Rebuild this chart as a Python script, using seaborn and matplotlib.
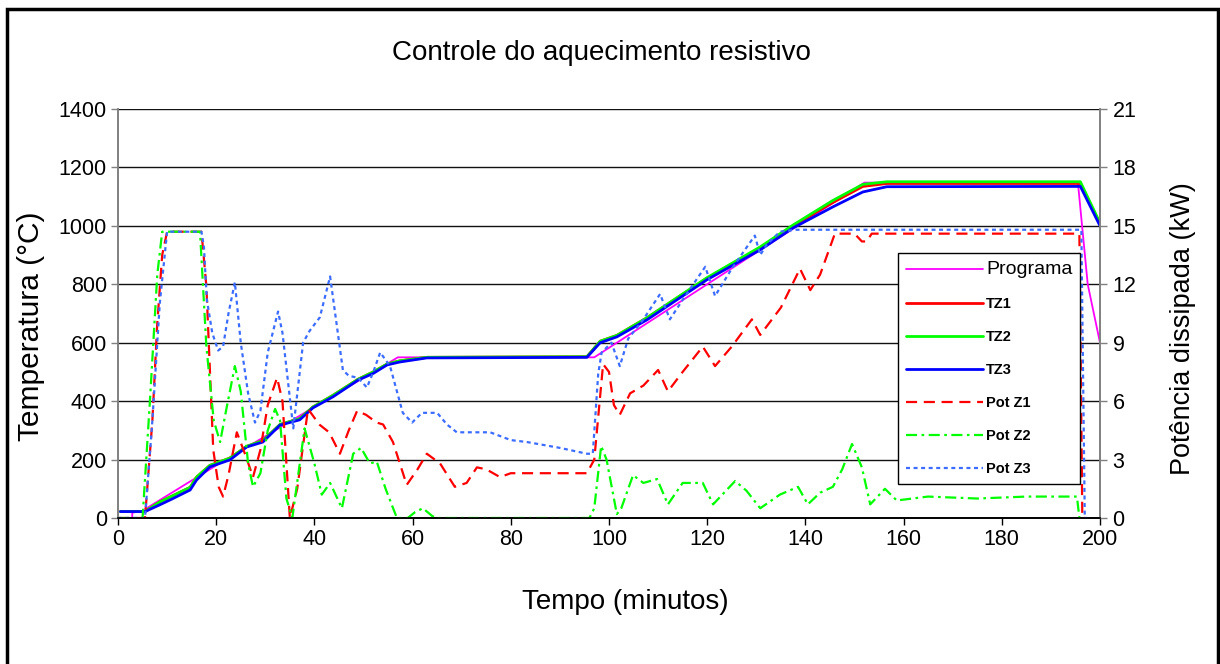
import matplotlib
matplotlib.use("Agg")
import matplotlib.pyplot as plt
from matplotlib.patches import Rectangle
import seaborn as sns

# ---------------- data ----------------
t_prog = [0.8, 2.9, 2.9, 5.0, 20, 40, 57, 97, 152, 195.5, 197.5, 200]
programa = [0, 0, 18, 25, 180, 380, 550, 550, 1148, 1148, 800, 600]

t_tz = [0.5, 5.5, 8.5, 11, 14.7, 16, 18.7, 22.8, 26.2, 29.5, 33, 37, 39.7, 43.8, 48.9, 52,
        54.8, 57.4, 62.9, 95.5, 98.2, 101.6, 107.7, 119.9, 130.8, 137.5, 145.6, 151.7,
        156.6, 196, 200]
tz1 = [22, 22, 55, 75, 105, 140, 180, 205, 245, 265, 320, 340, 380, 420, 475, 500,
       527, 538, 550, 552, 605, 625, 685, 820, 925, 1000, 1080, 1135, 1145, 1145, 1005]
tz2 = [22, 22, 55, 75, 105, 140, 180, 205, 245, 265, 320, 340, 380, 420, 475, 500,
       527, 538, 550, 552, 605, 625, 685, 822, 928, 1003, 1087, 1142, 1151, 1151, 1010]
tz3 = [22, 22, 45, 65, 96, 130, 175, 199, 243, 260, 318, 336, 377, 415, 472, 495,
       524, 534, 548, 550, 600, 620, 678, 815, 918, 993, 1065, 1116, 1134, 1135, 1000]

t_p1 = [0, 5.5, 7, 8, 9, 10, 17, 18, 19.4, 20.5, 21.4, 22.5, 24.2, 26, 27.5, 29, 30.5,
        32.4, 33.5, 35, 36.5, 38.7, 41, 43, 45.2, 47, 48.7, 50.5, 52.7, 54, 56, 58.8,
        61, 62.9, 65.6, 68.6, 71, 73.1, 75, 77.8, 80, 95.5, 97, 98.8, 100, 101, 102.2,
        104.3, 107, 110, 112, 115, 119.1, 121.6, 125, 129.1, 130.8, 135, 138.9, 141,
        143, 146, 150, 151.5, 152.5, 153.5, 156, 195.8, 196.4, 197]
pot_z1 = [0, 0, 5, 10, 13.5, 14.7, 14.7, 11.9, 3.5, 1.6, 1.1, 2.2, 4.4, 3.2, 2.1, 3.5,
          5.8, 7.2, 6, 0, 1.5, 5.6, 4.8, 4.4, 3.3, 4.5, 5.5, 5.3, 4.9, 4.8, 3.9, 1.7,
          2.5, 3.3, 2.8, 1.6, 1.8, 2.6, 2.5, 2.1, 2.3, 2.3, 3, 7.9, 7.5, 5.8, 5.3, 6.4,
          6.8, 7.6, 6.5, 7.5, 8.8, 7.8, 8.8, 10.2, 9.4, 10.8, 12.8, 11.7, 12.5, 14.6,
          14.6, 14.2, 14.2, 14.6, 14.6, 14.6, 0, 0]

t_p2 = [0, 5, 6.5, 8, 9, 10, 16.7, 18, 19.5, 20.8, 22, 23.8, 25, 26.5, 27.5, 29, 30.5,
        32, 33, 34.3, 35.5, 38, 40, 41.5, 43.2, 45.6, 47.9, 49.5, 51.3, 52.7, 54.5,
        56.8, 59, 60.5, 62.1, 64, 65, 96, 97, 98.4, 99.5, 101.6, 102.5, 104.9, 107,
        109.8, 112, 115, 119.1, 121.2, 125.7, 128, 130.8, 134.8, 138.5, 140.5, 143,
        145.6, 147.5, 149.5, 151.5, 153.2, 156.2, 158.6, 165, 175, 185, 195.3, 195.8, 196.3]
pot_z2 = [0, 0, 6, 12.5, 14.7, 14.7, 14.7, 8.8, 5, 3.9, 5.5, 7.8, 6.5, 2.8, 1.6, 2.3,
          4.5, 5.6, 5, 1, 0, 4.6, 2.8, 1.2, 1.8, 0.5, 3.3, 3.6, 2.8, 2.9, 1.5, 0, 0,
          0.3, 0.5, 0.1, 0, 0, 0.5, 3.7, 3.0, 0.2, 0.5, 2.2, 1.8, 2.0, 0.7, 1.8, 1.8,
          0.7, 1.9, 1.4, 0.5, 1.2, 1.6, 0.7, 1.3, 1.6, 2.5, 3.8, 2.6, 0.7, 1.5, 0.9,
          1.1, 1.0, 1.1, 1.1, 0, 0]

t_p3 = [0, 5.5, 7, 8.5, 10, 17, 17.5, 18.1, 19.2, 20.4, 21.4, 22.5, 23.8, 25, 26.5,
        27.9, 29, 30.5, 32.6, 33.5, 35.7, 37.7, 39, 41.1, 43.2, 44.5, 45.8, 47, 48.9,
        50.7, 52, 53.4, 55.4, 58, 59.9, 61.9, 65, 67, 69, 75.8, 80, 83.3, 90, 95.5,
        96.7, 97.8, 98.5, 100.5, 102.2, 103.9, 107, 110.4, 112.4, 115, 119.6, 121.6,
        125, 129.7, 130.8, 132, 134.8, 138, 145, 196.2, 196.9, 197.4]
pot_z3 = [0, 0, 5, 11, 14.7, 14.7, 13.9, 11.2, 9.5, 8.6, 8.8, 10.5, 12.1, 9, 6.4, 4.9,
          5.5, 8.5, 10.6, 9.5, 4.6, 9.0, 9.6, 10.3, 12.4, 10, 7.6, 7.3, 7.2, 6.7, 7.5,
          8.5, 7.8, 5.4, 4.9, 5.4, 5.4, 4.8, 4.4, 4.4, 4.0, 3.9, 3.6, 3.3, 3.3, 7.4,
          8.5, 9.0, 7.8, 9.2, 10.2, 11.5, 10.2, 11.2, 12.9, 11.4, 12.8, 14.5, 13.5, 14,
          14.7, 14.8, 14.8, 14.8, 0, 0]

x_ticks = list(range(0, 201, 20))
y_ticks = list(range(0, 1401, 200))
y2_ticks = list(range(0, 22, 3))

# ---------------- plot ----------------
sns.set_theme(style="white")
plt.rcParams["font.family"] = ["Liberation Sans", "DejaVu Sans"]
plt.rcParams["text.color"] = "black"
plt.rcParams["axes.labelcolor"] = "black"

fig = plt.figure(figsize=(12.2, 6.64), dpi=100)
ax = fig.add_axes([118 / 1220, 1 - 518 / 664, 982 / 1220, 409 / 664])
ax2 = ax.twinx()

common = dict(estimator=None, sort=False, legend=False)
sns.lineplot(x=t_prog, y=programa, ax=ax, color="#ff00ff", lw=1.3, label="Programa", **common)
sns.lineplot(x=t_tz, y=tz1, ax=ax, color="#ff0000", lw=2.0, label="TZ1", **common)
sns.lineplot(x=t_tz, y=tz2, ax=ax, color="#00ff00", lw=2.0, label="TZ2", **common)
sns.lineplot(x=t_tz, y=tz3, ax=ax, color="#0000ff", lw=2.0, label="TZ3", **common)

sns.lineplot(x=t_p1, y=pot_z1, ax=ax2, color="#ff0000", lw=1.6, label="Pot Z1",
             linestyle=(0, (5, 3)), **common)
sns.lineplot(x=t_p2, y=pot_z2, ax=ax2, color="#00ff00", lw=1.6, label="Pot Z2",
             linestyle=(0, (5, 2, 1.2, 2)), **common)
sns.lineplot(x=t_p3, y=pot_z3, ax=ax2, color="#3c6cff", lw=1.6, label="Pot Z3",
             linestyle=(0, (1.8, 1.6)), **common)

ax.set_xlim(0, 200)
ax.set_ylim(0, 1400)
ax2.set_ylim(0, 21)
ax.set_xticks(x_ticks)
ax.set_yticks(y_ticks)
ax2.set_yticks(y2_ticks)
ax.yaxis.grid(True, color="#111111", lw=1.0)
ax.xaxis.grid(False)
ax2.grid(False)

for a in (ax, ax2):
    a.spines["top"].set_visible(False)
    a.spines["left"].set_color("#808080")
    a.spines["right"].set_color("#808080")
    a.spines["bottom"].set_color("black")
    a.spines["left"].set_linewidth(1.2)
    a.spines["right"].set_linewidth(1.2)
    a.spines["bottom"].set_linewidth(1.2)
ax.tick_params(axis="both", which="major", labelsize=15.5, length=5, width=1,
               direction="out", colors="black", pad=3)
ax.tick_params(axis="y", left=True, color="#808080", labelcolor="black")
ax.tick_params(axis="x", bottom=True, color="black")
ax2.tick_params(axis="y", right=True, labelsize=15.5, length=5, width=1, direction="out",
                color="#808080", labelcolor="black", pad=4)

ax.set_xlabel("Tempo (minutos)", fontsize=20, color="black")
ax.xaxis.set_label_coords((625 - 118) / 982, -(602 - 518) / 409)
ax.xaxis.label.set_va("center")
ax.set_ylabel("Temperatura (°C)", fontsize=21.5, color="black")
ax.yaxis.set_label_coords(-(118 - 31) / 982, (518 - 326) / 409)
ax.yaxis.label.set_va("center")
ax2.set_ylabel("Potência dissipada (kW)", fontsize=19.5, rotation=90, color="black")
ax2.yaxis.set_label_coords((1183 - 118) / 982, (518 - 329) / 409)
ax2.yaxis.label.set_va("center")

fig.text(601 / 1220, 1 - 53 / 664, "Controle do aquecimento resistivo",
         ha="center", va="center", fontsize=20, color="black")

# legend
handles = ax.get_lines() + ax2.get_lines()
labels = ["Programa", "TZ1", "TZ2", "TZ3", "Pot Z1", "Pot Z2", "Pot Z3"]
leg = ax2.legend(handles, labels, loc="upper left", bbox_to_anchor=(0.794, 0.648),
                 borderaxespad=0, frameon=True, fancybox=False, framealpha=1,
                 edgecolor="black", handlelength=5.3, handletextpad=0.2,
                 labelspacing=1.3, borderpad=0.55,
                 prop={"weight": "bold", "size": 10.5})
leg.get_frame().set_linewidth(1.0)
leg.get_texts()[0].set_fontweight("normal")
leg.get_texts()[0].set_fontsize(14)
for tx in leg.get_texts():
    tx.set_color("black")

# outer chart border
fig.patches.append(Rectangle((7 / 1220, -0.1), 1211 / 1220, 1.1 - 9 / 664,
                             transform=fig.transFigure, fill=False, edgecolor="black",
                             lw=2.5))

fig.savefig("out.png", dpi=100)
